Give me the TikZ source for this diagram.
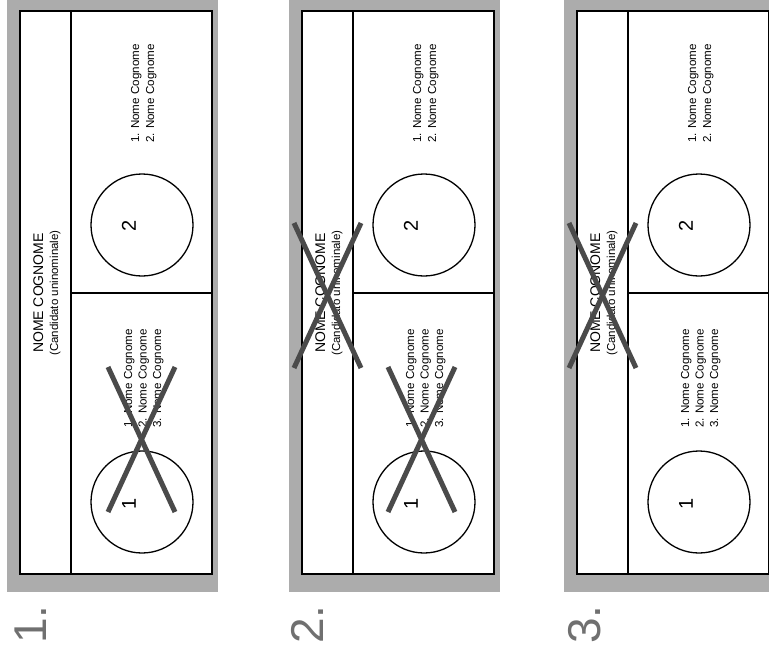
\documentclass[tikz,border=0pt]{standalone}
\usepackage{fontspec}
\setmainfont{Liberation Sans}
\definecolor{framegray}{RGB}{172,172,172}
\definecolor{markgray}{RGB}{74,74,74}
\definecolor{labelgray}{RGB}{112,112,112}
\tikzset{
  rim/.style={draw=black, line width=1.8},
  rule/.style={draw=black, line width=1.6},
  ring/.style={draw=black, line width=1.3},
  vote/.style={draw=markgray, line width=5},
  vert/.style={rotate=90, inner sep=0pt},
  listtext/.style={vert, anchor=base west, font=\fontsize{11.6}{12}\selectfont},
  ballot/.pic={
    % textured frame and the ballot sheet
    \fill[framegray] (7,-10) rectangle (218,592);
    \fill[white] (20,11) rectangle (212,574);
    \path[rim] (20,11) rectangle (212,574);
    % header column and the split between the two lists
    \path[rule] (71,11) -- (71,574);
    \path[rule] (71,293) -- (212,293);
    % header: single-member candidate
    \node[vert, anchor=base, font=\fontsize{14}{14}\selectfont] (-name) at (43,293) {NOME COGNOME};
    \node[vert, anchor=base, font=\fontsize{11.5}{12}\selectfont] (-role) at (58,293) {(Candidato uninominale)};
    % list 2 (upper half)
    \draw[ring] (142,225) circle (51);
    \node[vert, font=\fontsize{20}{20}\selectfont] (-sym2) at (129,226) {2};
    \node[listtext] (-b1) at (139,143) {1. Nome Cognome};
    \node[listtext] (-b2) at (154,143) {2. Nome Cognome};
    % list 1 (lower half)
    \draw[ring] (142,502) circle (51);
    \node[vert, font=\fontsize{20}{20}\selectfont] (-sym1) at (129,504) {1};
    \node[listtext] (-a1) at (132,428) {1. Nome Cognome};
    \node[listtext] (-a2) at (146.5,428) {2. Nome Cognome};
    \node[listtext] (-a3) at (161,428) {3. Nome Cognome};
  },
  headcross/.pic={
    \path[vote] (12,223) -- (79,368);
    \path[vote] (79,223) -- (12,368);
  },
  listcross/.pic={
    \path[vote] (108,367) -- (175,512);
    \path[vote] (175,367) -- (108,512);
  },
  caption/.style={vert, anchor=base west, text=labelgray, font=\fontsize{46}{46}\selectfont}
}
\begin{document}
\begin{tikzpicture}[x=1pt, y=-1pt]
  \useasboundingbox (0,0) rectangle (769,654);
  \clip (0,0) rectangle (769,654);
  \fill[white] (0,0) rectangle (769,654);

  % case 1: vote on a list only
  \pic (p1) at (0,0) {ballot};
  \pic (x1) at (0,0) {listcross};
  \node[caption] (c1) at (46,644) {1.};

  % case 2: vote on the candidate and on a list
  \pic (p2) at (282,0) {ballot};
  \pic (h2) at (282,0) {headcross};
  \pic (x2) at (280,0) {listcross};
  \node[caption] (c2) at (323,644) {2.};

  % case 3: vote on the candidate only
  \pic (p3) at (557,0) {ballot};
  \pic (h3) at (557,0) {headcross};
  \node[caption] (c3) at (600,644) {3.};
\end{tikzpicture}
\end{document}
